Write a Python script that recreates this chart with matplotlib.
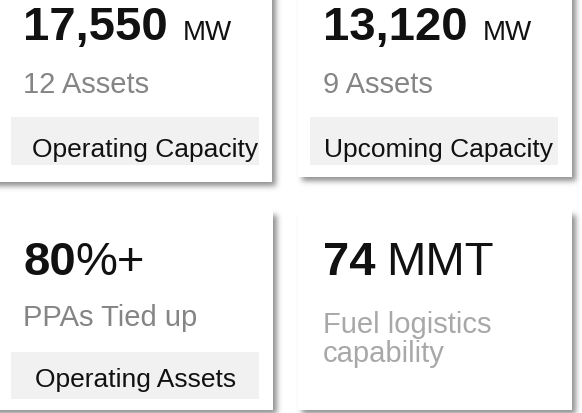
#!/usr/bin/env python

import numpy as np
import matplotlib
matplotlib.use('Agg')
import matplotlib.pyplot as plt
from matplotlib.patches import Rectangle

plt.rcParams['font.family'] = ['Liberation Sans', 'DejaVu Sans']

# card content
values = ['17,550', '13,120', '80', '74']
units = ['MW', 'MW', '%+', 'MMT']
subtitles = ['12 Assets', '9 Assets', 'PPAs Tied up', 'Fuel logistics\ncapability']
tags = ['Operating Capacity', 'Upcoming Capacity', 'Operating Assets', '']

W, H = 582, 414

# layout (pixels): card box, text anchors
cards = [(-30, -30, 272, 183), (298, -30, 572, 178),
         (-30, 207, 273, 411), (298, 207, 572, 411)]
text_x = [23, 323, 23, 323]
value_y = [40, 40, 275, 275]
unit_size = [20, 20, 34, 34]
unit_gap = [15, 15, 0, 11]
sub_y = [93, 93, 326, 333]
sub_color = ['#858585', '#858585', '#858585', '#a8a8a8']
tag_box = [(11, 118, 259, 166), (310, 118, 558, 166), (11, 353, 259, 400), None]
tag_x = [32, 324, 35, 0]
tag_y = [157, 157, 387, 0]


def blur(a, s):
  r = int(3 * s)
  k = np.exp(-0.5 * (np.arange(-r, r + 1) / s) ** 2)
  k /= k.sum()
  a = np.apply_along_axis(lambda m: np.convolve(m, k, mode='same'), 0, a)
  a = np.apply_along_axis(lambda m: np.convolve(m, k, mode='same'), 1, a)
  return a


fig = plt.figure(figsize=(W / 100., H / 100.), dpi=100)
ax = fig.add_axes([0, 0, 1, 1])
ax.set_xlim(0, W)
ax.set_ylim(H, 0)
ax.axis('off')

# soft drop shadow under the cards (kept off the top edges)
pad = 40
mask = np.zeros((H + 2 * pad, W + 2 * pad))
for x0, y0, x1, y1 in cards:
  sx0, sy0, sx1, sy1 = x0 + 4, y0 + 9, x1 + 4, y1 + 4
  mask[max(0, int(sy0 + pad)):int(sy1 + pad), max(0, int(sx0 + pad)):int(sx1 + pad)] = 1
mask = blur(mask, 2.8)[pad:pad + H, pad:pad + W]
shadow = np.zeros((H, W, 4))
shadow[..., :3] = 0.3
shadow[..., 3] = mask * 0.62
ax.imshow(shadow, extent=(0, W, H, 0), zorder=1, interpolation='bilinear')

for x0, y0, x1, y1 in cards:
  ax.add_patch(Rectangle((x0, y0), x1 - x0, y1 - y0, facecolor='white', edgecolor='none', zorder=2))

fig.canvas.draw()
renderer = fig.canvas.get_renderer()
inv = ax.transData.inverted()

for i in range(4):
  t = ax.text(text_x[i], value_y[i], values[i], fontsize=34, fontweight='bold',
              color='#111111', va='baseline', ha='left', zorder=3)
  bb = t.get_window_extent(renderer=renderer)
  right = inv.transform((bb.x1, bb.y0))[0]
  ax.text(right + unit_gap[i], value_y[i], units[i], fontsize=unit_size[i],
          color='#111111', va='baseline', ha='left', zorder=3)

  lines = subtitles[i].split('\n')
  for j, line in enumerate(lines):
    ax.text(text_x[i], sub_y[i] + j * 29, line, fontsize=21, color=sub_color[i],
            va='baseline', ha='left', zorder=3)

  if tag_box[i] is not None:
    x0, y0, x1, y1 = tag_box[i]
    ax.add_patch(Rectangle((x0, y0), x1 - x0, y1 - y0, facecolor='#f1f1f1', edgecolor='none', zorder=2.5))
    ax.text(tag_x[i], tag_y[i], tags[i], fontsize=19, color='#111111',
            va='baseline', ha='left', zorder=3)

fig.savefig('out.png', dpi=100)
